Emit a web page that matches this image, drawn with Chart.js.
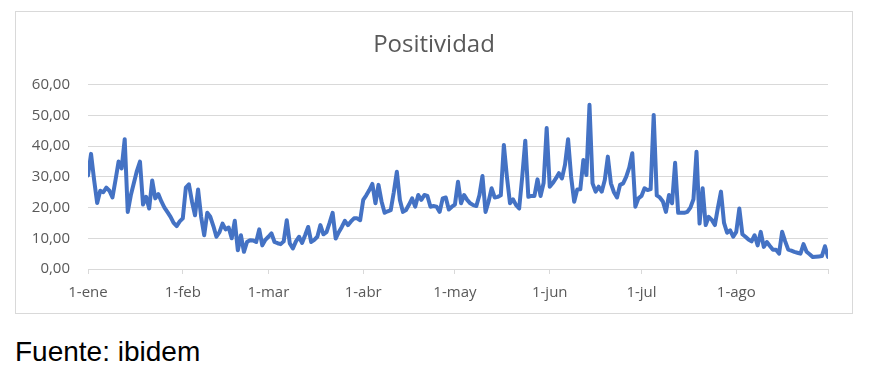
<!DOCTYPE html>
<html>
<head>
<meta charset="utf-8">
<script src="https://cdn.jsdelivr.net/npm/chart.js@4.4.0/dist/chart.umd.min.js"></script>
<style>
  html, body { margin: 0; padding: 0; background: #ffffff; width: 873px; height: 374px; overflow: hidden; }
  #box { position: absolute; left: 15px; top: 11px; width: 836px; height: 301px; border: 1px solid #d9d9d9; }
  #wrap { position: absolute; left: 0; top: 0; width: 836px; height: 301px; }
  #src { position: absolute; left: 15px; top: 338px; font-family: "Liberation Sans", Arial, sans-serif; font-size: 28px; line-height: 28px; color: #000; }
</style>
</head>
<body>
<div id="box"><div id="wrap"><canvas id="c"></canvas></div></div>
<div id="src">Fuente: ibidem</div>
<script>
// Daily positivity values, one array per month
const ene = [30.5, 37.5, 29, 21.5, 25.5, 25, 26.5, 25.5, 23.3, 29, 35, 32.8, 42.3, 18.6, 24, 28, 32, 35, 21, 23.5, 19.7, 28.8, 23, 24.4, 22, 20, 18.5, 17, 15, 14, 15.5];
const feb = [16.5, 26.5, 27.6, 22, 17.5, 25.9, 17, 11, 18.3, 17, 14, 10.5, 12, 14.8, 12.9, 13.5, 10, 15.7, 6.1, 11, 5.6, 8.8, 9.4, 9.3, 8.8, 12.9, 7.7, 9.5];
const mar = [10.5, 11.6, 8.8, 8.4, 8.1, 9, 15.9, 8.3, 6.7, 9, 10.5, 8.5, 11, 13.7, 8.8, 9.5, 10.5, 14.3, 11.3, 12, 15, 18.3, 9.9, 12, 13.7, 15.7, 14.3, 15.5, 16.5, 16.5, 15.9];
const abr = [22.5, 24, 25.7, 27.7, 21.4, 27.4, 22, 18.3, 18.8, 19.2, 25, 31.7, 22.5, 18.6, 19.2, 21, 23, 20.3, 24.1, 22.5, 24.1, 23.8, 20.3, 20.5, 20.3, 18.6, 23, 23.3, 19.4, 20.3];
const may = [21, 28.4, 21.4, 24.1, 22.5, 21.4, 20.8, 20.5, 24, 30.3, 18.6, 22, 26.3, 23.3, 23.5, 24, 40.4, 30, 21.4, 22.7, 20.8, 19.7, 30, 41.8, 23.5, 23.8, 23.8, 29.2, 23.8, 28, 45.9];
const jun = [26.8, 28, 29.5, 31.2, 29.5, 34, 42.3, 30, 21.9, 25.9, 26, 35.5, 30.6, 53.5, 27.9, 25.2, 26.8, 25.2, 29, 36.6, 27.9, 25, 23.3, 27.4, 27.9, 30, 33, 37.7, 20.3, 23];
const jul = [23.8, 26.3, 25.7, 26, 50.2, 24, 23.3, 22, 18.6, 24.1, 21.4, 34.6, 18.3, 18.3, 18.3, 18.6, 20, 22.7, 38.2, 14.8, 26.3, 14.3, 17, 16, 14.3, 20, 25.2, 15, 11.8, 12.6, 10.5];
const ago = [12.1, 19.7, 11.3, 10.5, 9.6, 9, 11, 7.7, 12.1, 7.2, 8.8, 7.5, 6.3, 6.3, 5, 12.1, 9, 6.3, 6, 5.6, 5.3, 5, 8.1, 5.6, 4.8, 3.9, 4, 4.1, 4.2, 7.4, 3.9];

// Tick labels (month starts, as day index from 1-ene)
const monthTicks = [0, 31, 59, 90, 120, 151, 181, 212];
const monthLabels = ['1-ene', '1-feb', '1-mar', '1-abr', '1-may', '1-jun', '1-jul', '1-ago'];
const yTicks = [0, 10, 20, 30, 40, 50, 60];

const positividad = [].concat(ene, feb, mar, abr, may, jun, jul, ago);
const lastDay = positividad.length - 1;
const points = positividad.map((v, i) => ({ x: i, y: v }));

const grey = '#d9d9d9';
const txt = '#595959';

new Chart(document.getElementById('c'), {
  type: 'line',
  data: {
    datasets: [{
      data: points,
      borderColor: '#4472c4',
      borderWidth: 4,
      pointRadius: 0,
      tension: 0,
      borderJoinStyle: 'round',
      borderCapStyle: 'round',
      fill: false
    }]
  },
  options: {
    responsive: true,
    maintainAspectRatio: false,
    animation: false,
    layout: { padding: { left: 0, right: 0, top: 0, bottom: 0 } },
    plugins: {
      legend: { display: false },
      tooltip: { enabled: false },
      title: {
        display: true,
        text: 'Positividad',
        color: txt,
        font: { family: '"Open Sans", "Liberation Sans", sans-serif', size: 24, weight: 'normal' },
        padding: { top: 19, bottom: 25 }
      }
    },
    scales: {
      x: {
        type: 'linear',
        min: 0,
        max: lastDay,
        afterBuildTicks: (axis) => {
          axis.ticks = monthTicks.map(v => ({ value: v })).concat([{ value: lastDay }]);
        },
        afterFit: (axis) => { axis.height = 44; },
        ticks: {
          autoSkip: false,
          maxRotation: 0,
          padding: 10,
          color: txt,
          font: { family: '"Open Sans", sans-serif', size: 15 },
          callback: (value) => {
            const k = monthTicks.indexOf(value);
            return k >= 0 ? monthLabels[k] : '';
          }
        },
        grid: { drawOnChartArea: false, drawTicks: true, tickLength: 5, color: grey, lineWidth: 1 },
        border: { display: true, color: grey, width: 1 }
      },
      y: {
        min: 0,
        max: 60,
        afterBuildTicks: (axis) => { axis.ticks = yTicks.map(v => ({ value: v })); },
        afterFit: (axis) => { axis.width = 72; },
        ticks: {
          padding: 18,
          color: txt,
          font: { family: '"Open Sans", sans-serif', size: 15 },
          callback: (v) => v.toFixed(2).replace('.', ',')
        },
        grid: { drawTicks: false, color: grey, lineWidth: 1 },
        border: { display: false }
      },
      yRight: {
        position: 'right',
        min: 0,
        max: 60,
        afterFit: (axis) => { axis.width = 24; },
        ticks: { display: false },
        grid: { display: false, drawTicks: false },
        border: { display: false }
      }
    }
  }
});
</script>
</body>
</html>
